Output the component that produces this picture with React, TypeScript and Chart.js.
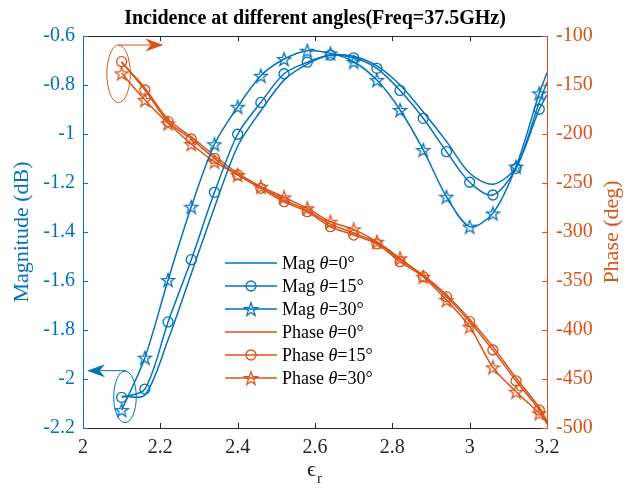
import React, { useEffect, useRef } from 'react';
import { Chart, registerables } from 'chart.js';
Chart.register(...registerables);

const BLUE = '#0072BD';
const ORANGE = '#D95319';
const DARK = '#262626';
const FONT = '"Liberation Serif", "Times New Roman", serif';

const epsR = [2.1, 2.16, 2.22, 2.28, 2.34, 2.4, 2.46, 2.52, 2.58, 2.64, 2.7, 2.76, 2.82, 2.88, 2.94, 3.0, 3.06, 3.12, 3.18, 3.2];

const mag0 = [-2.07, -2.065, -1.84, -1.57, -1.30, -1.05, -0.905, -0.78, -0.715, -0.678, -0.683, -0.722, -0.80, -0.91, -1.03, -1.16, -1.205, -1.135, -0.87, -0.79];
const mag15 = [-2.075, -2.041, -1.767, -1.513, -1.238, -1.001, -0.871, -0.754, -0.707, -0.678, -0.689, -0.732, -0.822, -0.936, -1.072, -1.197, -1.249, -1.140, -0.899, -0.84];
const mag30 = [-2.127, -1.913, -1.596, -1.297, -1.042, -0.889, -0.762, -0.694, -0.660, -0.671, -0.705, -0.780, -0.902, -1.065, -1.256, -1.378, -1.324, -1.133, -0.834, -0.75];

const phase0 = [-127, -153, -185, -203, -222, -240, -254, -267, -278, -292, -301, -311, -328, -344, -364, -389, -417, -449, -479, -493];
const phase15 = [-126.2, -155.1, -187.4, -205.1, -224.8, -241.8, -255.4, -269.1, -279.3, -294.6, -303.1, -312.2, -330.3, -345.6, -366, -391.5, -420.4, -452, -481.6, -496];
const phase30 = [-138.1, -165.3, -189.1, -210.2, -228.3, -241.8, -253.7, -264.6, -275.8, -289.5, -297.3, -309.9, -326.9, -345.6, -369.4, -396.6, -438.1, -463, -485, -494];

const xTicks = [2, 2.2, 2.4, 2.6, 2.8, 3, 3.2];
const xTickLabels = ['2', '2.2', '2.4', '2.6', '2.8', '3', '3.2'];
const magTicks = [-2.2, -2, -1.8, -1.6, -1.4, -1.2, -1, -0.8, -0.6];
const magTickLabels = ['-2.2', '-2', '-1.8', '-1.6', '-1.4', '-1.2', '-1', '-0.8', '-0.6'];
const phaseTicks = [-500, -450, -400, -350, -300, -250, -200, -150, -100];
const phaseTickLabels = ['-500', '-450', '-400', '-350', '-300', '-250', '-200', '-150', '-100'];

const titleText = 'Incidence at different angles(Freq=37.5GHz)';
const magTitle = 'Magnitude (dB)';
const phaseTitle = 'Phase (deg)';

const legendNames = ['Mag ', 'Mag ', 'Mag ', 'Phase ', 'Phase ', 'Phase '];
const legendAngles = ['=0°', '=15°', '=30°', '=0°', '=15°', '=30°'];

// annotation ellipses / arrows, in data coordinates
const magEllipse = { x: 2.1086, y: -2.073, rx: 0.0292, ry: 0.105 };
const magArrow = { x0: 2.112, x1: 2.0103, y: -1.966 };
const phaseEllipse = { x: 2.092, y: -138.6, rx: 0.0303, ry: 29.4 };
const phaseArrow = { x0: 2.091, x1: 2.208, y: -109.2 };

function makeStar(color: string) {
  const c = document.createElement('canvas');
  const s = 16;
  c.width = s;
  c.height = s;
  const ctx = c.getContext('2d')!;
  const cx = s / 2, cy = s / 2 + 0.7, R = 7, r = 2.8;
  ctx.beginPath();
  for (let i = 0; i < 10; i++) {
    const a = -Math.PI / 2 + (i * Math.PI) / 5;
    const rr = i % 2 === 0 ? R : r;
    ctx.lineTo(cx + rr * Math.cos(a), cy + rr * Math.sin(a));
  }
  ctx.closePath();
  ctx.strokeStyle = color;
  ctx.lineWidth = 1.3;
  ctx.stroke();
  return c;
}

function drawArrow(ctx: CanvasRenderingContext2D, x0: number, x1: number, y: number, color: string) {
  const dir = Math.sign(x1 - x0);
  const hl = 18, hw = 6.5;
  ctx.save();
  ctx.strokeStyle = color;
  ctx.fillStyle = color;
  ctx.lineWidth = 1;
  ctx.beginPath();
  ctx.moveTo(x0, y);
  ctx.lineTo(x1 - dir * hl * 0.6, y);
  ctx.stroke();
  ctx.beginPath();
  ctx.moveTo(x1, y);
  ctx.lineTo(x1 - dir * hl, y - hw);
  ctx.lineTo(x1 - dir * hl * 0.7, y);
  ctx.lineTo(x1 - dir * hl, y + hw);
  ctx.closePath();
  ctx.fill();
  ctx.restore();
}

export default function App() {
  const ref = useRef<HTMLCanvasElement>(null);

  useEffect(() => {
    document.body.style.margin = '0';
    const canvas = ref.current!;
    const starBlue = makeStar(BLUE);
    const starOrange = makeStar(ORANGE);
    const lastIdx = epsR.length - 1;
    const markerRadius = (ctx: any) => (ctx.dataIndex < lastIdx ? 5 : 0);

    const mk = (label: string, ys: number[], color: string, axis: string, style: any) => ({
      label,
      data: epsR.map((x, i) => ({ x, y: ys[i] })),
      yAxisID: axis,
      borderColor: color,
      borderWidth: 1.5,
      tension: 0.3,
      pointStyle: style || 'circle',
      pointRadius: style ? markerRadius : 0,
      pointBorderColor: color,
      pointBackgroundColor: 'rgba(0,0,0,0)',
      pointBorderWidth: 1.3,
      fill: false,
    });

    const decor = {
      id: 'decor',
      afterDraw(chart: any) {
        const ctx: CanvasRenderingContext2D = chart.ctx;
        const a = chart.chartArea;
        const sx = chart.scales.x;
        const sm = chart.scales.yMag;
        const sp = chart.scales.yPhase;
        ctx.save();
        // box
        ctx.lineWidth = 1;
        ctx.strokeStyle = DARK;
        ctx.beginPath();
        ctx.moveTo(a.left, a.top + 0.5); ctx.lineTo(a.right, a.top + 0.5);
        ctx.moveTo(a.left, a.bottom + 0.5); ctx.lineTo(a.right, a.bottom + 0.5);
        xTicks.forEach((v) => {
          const px = Math.round(sx.getPixelForValue(v)) + 0.5;
          ctx.moveTo(px, a.bottom); ctx.lineTo(px, a.bottom - 5);
          ctx.moveTo(px, a.top); ctx.lineTo(px, a.top + 5);
        });
        ctx.stroke();
        ctx.strokeStyle = BLUE;
        ctx.beginPath();
        ctx.moveTo(a.left + 0.5, a.top); ctx.lineTo(a.left + 0.5, a.bottom + 1);
        magTicks.forEach((v) => {
          const py = Math.round(sm.getPixelForValue(v)) + 0.5;
          ctx.moveTo(a.left, py); ctx.lineTo(a.left + 5, py);
        });
        ctx.stroke();
        ctx.strokeStyle = ORANGE;
        ctx.beginPath();
        ctx.moveTo(a.right + 0.5, a.top); ctx.lineTo(a.right + 0.5, a.bottom + 1);
        phaseTicks.forEach((v) => {
          const py = Math.round(sp.getPixelForValue(v)) + 0.5;
          ctx.moveTo(a.right, py); ctx.lineTo(a.right - 5, py);
        });
        ctx.stroke();

        // title
        ctx.fillStyle = '#000';
        ctx.font = `bold 20px ${FONT}`;
        ctx.textAlign = 'center';
        ctx.textBaseline = 'middle';
        ctx.fillText(titleText, (a.left + a.right) / 2, 19);

        // axis titles
        ctx.font = `22px ${FONT}`;
        ctx.fillStyle = BLUE;
        ctx.save();
        ctx.translate(22, (a.top + a.bottom) / 2);
        ctx.rotate(-Math.PI / 2);
        ctx.fillText(magTitle, 0, 0);
        ctx.restore();
        ctx.fillStyle = ORANGE;
        ctx.save();
        ctx.translate(612, (a.top + a.bottom) / 2);
        ctx.rotate(-Math.PI / 2);
        ctx.fillText(phaseTitle, 0, 0);
        ctx.restore();

        // x title: epsilon with subscript r
        ctx.fillStyle = DARK;
        ctx.textBaseline = 'alphabetic';
        ctx.textAlign = 'left';
        ctx.font = `22px ${FONT}`;
        const cxm = (a.left + a.right) / 2;
        ctx.fillText('ϵ', cxm - 8, 476);
        ctx.font = `15px ${FONT}`;
        ctx.fillText('r', cxm + 2, 483);

        // annotations
        ctx.lineWidth = 1;
        ctx.strokeStyle = BLUE;
        ctx.beginPath();
        {
          const cx = sx.getPixelForValue(magEllipse.x);
          const cy = sm.getPixelForValue(magEllipse.y);
          const rx = sx.getPixelForValue(magEllipse.x + magEllipse.rx) - cx;
          const ry = cy - sm.getPixelForValue(magEllipse.y + magEllipse.ry);
          ctx.ellipse(cx, cy, rx, ry, 0, 0, Math.PI * 2);
        }
        ctx.stroke();
        drawArrow(ctx, sx.getPixelForValue(magArrow.x0), sx.getPixelForValue(magArrow.x1), sm.getPixelForValue(magArrow.y), BLUE);
        ctx.strokeStyle = ORANGE;
        ctx.beginPath();
        {
          const cx = sx.getPixelForValue(phaseEllipse.x);
          const cy = sp.getPixelForValue(phaseEllipse.y);
          const rx = sx.getPixelForValue(phaseEllipse.x + phaseEllipse.rx) - cx;
          const ry = cy - sp.getPixelForValue(phaseEllipse.y + phaseEllipse.ry);
          ctx.ellipse(cx, cy, rx, ry, 0, 0, Math.PI * 2);
        }
        ctx.stroke();
        drawArrow(ctx, sx.getPixelForValue(phaseArrow.x0), sx.getPixelForValue(phaseArrow.x1), sp.getPixelForValue(phaseArrow.y), ORANGE);

        // legend
        const lx0 = 225, lx1 = 277, tx = 282, y0 = 263, dy = 23;
        const styles: any[] = [null, 'circle', starBlue, null, 'circle', starOrange];
        for (let i = 0; i < 6; i++) {
          const color = i < 3 ? BLUE : ORANGE;
          const y = y0 + i * dy;
          ctx.strokeStyle = color;
          ctx.lineWidth = 1.5;
          ctx.beginPath();
          ctx.moveTo(lx0, y); ctx.lineTo(lx1, y);
          ctx.stroke();
          const mx = (lx0 + lx1) / 2;
          if (styles[i] === 'circle') {
            ctx.lineWidth = 1.3;
            ctx.beginPath();
            ctx.arc(mx, y, 5, 0, Math.PI * 2);
            ctx.stroke();
          } else if (styles[i]) {
            ctx.drawImage(styles[i], mx - styles[i].width / 2, y - styles[i].height / 2);
          }
          ctx.fillStyle = '#000';
          ctx.textBaseline = 'middle';
          ctx.textAlign = 'left';
          let x = tx;
          ctx.font = `18px ${FONT}`;
          ctx.fillText(legendNames[i], x, y + 1);
          x += ctx.measureText(legendNames[i]).width;
          ctx.font = `italic 18px ${FONT}`;
          ctx.fillText('θ', x, y + 1);
          x += ctx.measureText('θ').width;
          ctx.font = `18px ${FONT}`;
          ctx.fillText(legendAngles[i], x, y + 1);
        }
        ctx.restore();
      },
    };

    const chart = new Chart(canvas, {
      type: 'line',
      data: {
        datasets: [
          mk('Mag 0', mag0, BLUE, 'yMag', null),
          mk('Mag 15', mag15, BLUE, 'yMag', 'circle'),
          mk('Mag 30', mag30, BLUE, 'yMag', starBlue),
          mk('Phase 0', phase0, ORANGE, 'yPhase', null),
          mk('Phase 15', phase15, ORANGE, 'yPhase', 'circle'),
          mk('Phase 30', phase30, ORANGE, 'yPhase', starOrange),
        ] as any,
      },
      options: {
        responsive: false,
        animation: false,
        layout: { padding: { top: 36, left: 0, right: 0, bottom: 0 } },
        plugins: { legend: { display: false }, tooltip: { enabled: false }, title: { display: false } },
        scales: {
          x: {
            type: 'linear',
            min: 2,
            max: 3.2,
            grid: { display: false, drawTicks: false },
            border: { display: false },
            afterBuildTicks: (s: any) => { s.ticks = xTicks.map((v) => ({ value: v })); },
            afterFit: (s: any) => { s.height = 65; },
            ticks: {
              autoSkip: false,
              maxRotation: 0,
              padding: 8,
              color: DARK,
              font: { family: FONT, size: 20 },
              callback: (_v: any, i: number) => xTickLabels[i],
            },
          },
          yMag: {
            type: 'linear',
            position: 'left',
            min: -2.2,
            max: -0.6,
            grid: { display: false, drawTicks: false },
            border: { display: false },
            afterBuildTicks: (s: any) => { s.ticks = magTicks.map((v) => ({ value: v })); },
            afterFit: (s: any) => { s.width = 83; },
            ticks: {
              autoSkip: false,
              padding: 8,
              color: BLUE,
              font: { family: FONT, size: 20 },
              callback: (_v: any, i: number) => magTickLabels[i],
            },
          },
          yPhase: {
            type: 'linear',
            position: 'right',
            min: -500,
            max: -100,
            grid: { display: false, drawTicks: false },
            border: { display: false },
            afterBuildTicks: (s: any) => { s.ticks = phaseTicks.map((v) => ({ value: v })); },
            afterFit: (s: any) => { s.width = 83; },
            ticks: {
              autoSkip: false,
              padding: 9,
              color: ORANGE,
              font: { family: FONT, size: 20 },
              callback: (_v: any, i: number) => phaseTickLabels[i],
            },
          },
        },
      } as any,
      plugins: [decor],
    });
    return () => chart.destroy();
  }, []);

  return (
    <div style={{ width: 630, height: 493 }}>
      <canvas ref={ref} width={630} height={493} style={{ display: 'block' }} />
    </div>
  );
}
